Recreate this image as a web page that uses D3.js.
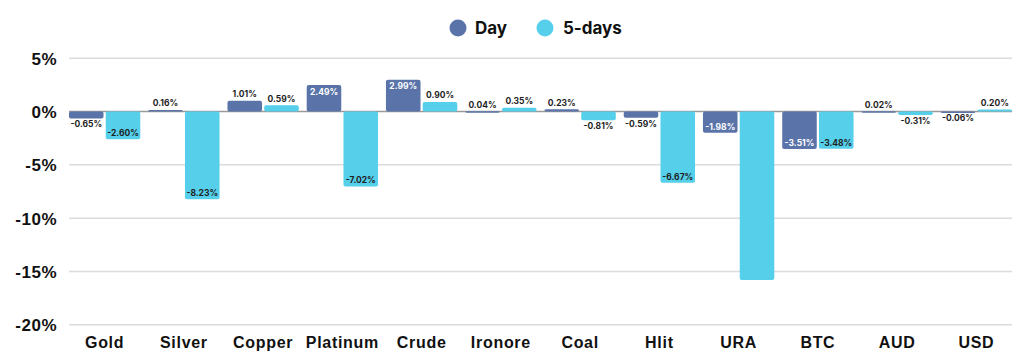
<!DOCTYPE html>
<html><head><meta charset="utf-8">
<script src="https://cdn.jsdelivr.net/npm/d3@7/dist/d3.min.js"></script>
<style>
body{margin:0;background:#fff;}
svg{display:block;font-family:Inter, "Open Sans", sans-serif;}
</style></head>
<body><svg id="c" width="1024" height="364"></svg>
<script>
const categories = ["Gold","Silver","Copper","Platinum","Crude","Ironore","Coal","Hlit","URA","BTC","AUD","USD"];
const seriesNames = ["Day","5-days"];
const dayValues = [-0.65,0.16,1.01,2.49,2.99,0.04,0.23,-0.59,-1.98,-3.51,0.02,-0.06];
const fiveDayValues = [-2.60,-8.23,0.59,-7.02,0.90,0.35,-0.81,-6.67,-15.8,-3.48,-0.31,0.20];
const yTicks = [5,0,-5,-10,-15,-20];
const hiddenLabels = [["URA","5-days"]];
const colors = {"Day":"#5a74aa","5-days":"#55cfea"};
const insideText = {"Day":"#ffffff","5-days":"#1e1e1e"};

const svg = d3.select("#c");
const y = d3.scaleLinear().domain([-20,5]).range([324.7,58.3]);
const x = d3.scaleBand().domain(categories).range([65,1016]).paddingInner(0.1).paddingOuter(0.05);
const xs = d3.scaleBand().domain(seriesNames).range([0,x.bandwidth()]).paddingInner(0.06);

// grid
svg.append("g").selectAll("line").data(yTicks).join("line")
  .attr("x1",69).attr("x2",1012)
  .attr("y1",d=>y(d)).attr("y2",d=>y(d))
  .attr("stroke",d=>d===0?"#9a9a9a":"#dcdcdc").attr("stroke-width",1.5);

// y axis labels
const yAxis = d3.axisLeft(y).tickValues(yTicks).tickFormat(d=>d+"%").tickSize(0).tickPadding(0);
const ga = svg.append("g").attr("transform","translate(57,0)").call(yAxis);
ga.select(".domain").remove();
ga.selectAll("text").attr("font-size",17).attr("font-weight",700).attr("letter-spacing",0.5).attr("fill","#111").attr("dy","0.35em");

// x axis labels
const xAxis = d3.axisBottom(x).tickSize(0).tickPadding(0);
const gx = svg.append("g").attr("transform","translate(0,342)").call(xAxis);
gx.select(".domain").remove();
gx.selectAll("text").attr("font-size",16).attr("font-weight",700).attr("letter-spacing",0.7).attr("fill","#111").attr("dy","0.35em");

const data = [];
categories.forEach((c,i)=>{
  data.push({cat:c,s:"Day",v:dayValues[i]});
  data.push({cat:c,s:"5-days",v:fiveDayValues[i]});
});

const bars = svg.append("g");
bars.selectAll("rect").data(data).join("rect")
  .attr("x",d=>x(d.cat)+xs(d.s))
  .attr("width",xs.bandwidth())
  .attr("y",d=>Math.min(y(d.v),y(0)))
  .attr("height",d=>Math.max(1.5,Math.abs(y(d.v)-y(0))))
  .attr("rx",2)
  .attr("fill",d=>colors[d.s]);

const lab = svg.append("g");
data.filter(d=>!hiddenLabels.some(h=>h[0]===d.cat&&h[1]===d.s)).forEach(d=>{
  const h = Math.abs(y(d.v)-y(0));
  const inside = h>18;
  const end = y(d.v);
  let ty, col;
  if(d.v>=0){ ty = inside? end+6.5 : end-6.5; }
  else { ty = inside? end-6 : end+6; }
  col = inside? insideText[d.s] : "#1e1e1e";
  lab.append("text").attr("x",x(d.cat)+xs(d.s)+xs.bandwidth()/2).attr("y",ty)
    .attr("dy","0.35em").attr("text-anchor","middle")
    .attr("font-size",8.5).attr("font-weight",700).attr("fill",col)
    .text(d.v.toFixed(2)+"%");
});

// legend
const lg = svg.append("g");
const legendItems = [{s:"Day",cx:458,tx:475},{s:"5-days",cx:545,tx:563}];
legendItems.forEach(l=>{
  lg.append("circle").attr("cx",l.cx).attr("cy",28).attr("r",8.5).attr("fill",colors[l.s]);
  lg.append("text").attr("x",l.tx).attr("y",28).attr("dy","0.35em")
    .attr("font-size",17).attr("font-weight",700).attr("fill","#111").text(l.s);
});
</script></body></html>
